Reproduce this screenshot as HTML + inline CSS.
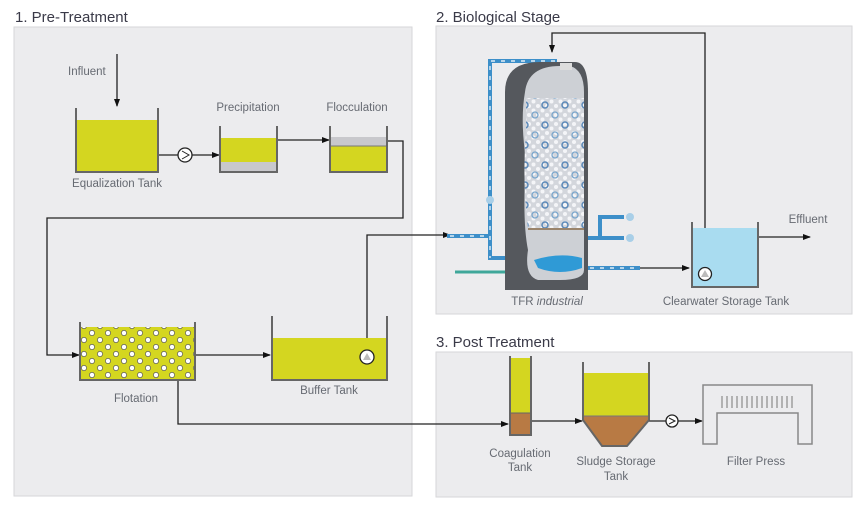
<!DOCTYPE html>
<html><head><meta charset="utf-8"><style>
html,body{margin:0;padding:0;background:#fff;}
svg{display:block;}
text{font-family:"Liberation Sans",sans-serif;}
</style></head><body>
<svg width="866" height="511" viewBox="0 0 866 511" xmlns="http://www.w3.org/2000/svg">
<defs>
<marker id="a" markerWidth="8" markerHeight="8" refX="7" refY="4" orient="auto" markerUnits="userSpaceOnUse"><path d="M0,1 L8,4 L0,7 Z" fill="#111"/></marker>
<pattern id="bub" width="16" height="14" patternUnits="userSpaceOnUse"><circle cx="4" cy="4" r="2.6" fill="#fff" stroke="#555" stroke-width="0.7"/><circle cx="12" cy="11" r="2.6" fill="#fff" stroke="#555" stroke-width="0.7"/></pattern>
<pattern id="media" width="9" height="9" patternUnits="userSpaceOnUse"><rect width="9" height="9" fill="#d3d6dc"/><circle cx="2.5" cy="2.5" r="2" fill="#f4f5f8"/><circle cx="7" cy="7" r="2" fill="#f4f5f8"/></pattern>
<pattern id="media2" width="20" height="20" patternUnits="userSpaceOnUse"><circle cx="5" cy="5" r="3" fill="none" stroke="#5a88b8" stroke-width="1.5"/><circle cx="15" cy="15" r="3" fill="none" stroke="#7aa6cc" stroke-width="1.3"/></pattern>
</defs>
<rect x="14" y="27" width="398" height="469" fill="#ececee" stroke="#d6d6d8"/>
<rect x="436" y="26" width="416" height="288" fill="#ececee" stroke="#d6d6d8"/>
<rect x="436" y="352" width="416" height="145" fill="#ececee" stroke="#d6d6d8"/>
<g font-size="15" fill="#3a3a48">
<text x="15" y="22">1. Pre-Treatment</text>
<text x="436" y="22">2. Biological Stage</text>
<text x="436" y="347">3. Post Treatment</text>
</g>
<g font-size="11.5" fill="#666a72">
<text x="68" y="75">Influent</text>
<text x="117" y="187" text-anchor="middle">Equalization Tank</text>
<text x="248" y="111" text-anchor="middle">Precipitation</text>
<text x="357" y="111" text-anchor="middle">Flocculation</text>
<text x="136" y="402" text-anchor="middle">Flotation</text>
<text x="329" y="394" text-anchor="middle">Buffer Tank</text>
<text x="547" y="305" text-anchor="middle">TFR <tspan font-style="italic">industrial</tspan></text>
<text x="726" y="305" text-anchor="middle">Clearwater Storage Tank</text>
<text x="808" y="223" text-anchor="middle">Effluent</text>
<text x="520" y="457" text-anchor="middle">Coagulation</text>
<text x="520" y="471" text-anchor="middle">Tank</text>
<text x="616" y="465" text-anchor="middle">Sludge Storage</text>
<text x="616" y="480" text-anchor="middle">Tank</text>
<text x="756" y="465" text-anchor="middle">Filter Press</text>
</g>
<g stroke="#222" stroke-width="1.3" fill="none">
<line x1="117" y1="54" x2="117" y2="106" marker-end="url(#a)"/>
<line x1="158" y1="155" x2="178" y2="155"/>
<line x1="192" y1="155" x2="219" y2="155" marker-end="url(#a)"/>
<line x1="277" y1="140" x2="329" y2="140" marker-end="url(#a)"/>
<polyline points="387,141 403,141 403,218 47,218 47,355 79,355" marker-end="url(#a)"/>
<line x1="195" y1="355" x2="270" y2="355" marker-end="url(#a)"/>
<polyline points="367,350 367,235 450,235" marker-end="url(#a)"/>
<polyline points="178,380 178,424 508,424" marker-end="url(#a)"/>
<polyline points="705,268 705,33 552,33 552,52" marker-end="url(#a)"/>
<line x1="758" y1="237" x2="810" y2="237" marker-end="url(#a)"/>
<line x1="640" y1="268" x2="689" y2="268" marker-end="url(#a)"/>
<line x1="530" y1="421" x2="582" y2="421" marker-end="url(#a)"/>
<line x1="648" y1="421" x2="666" y2="421"/>
<line x1="678" y1="421" x2="702" y2="421" marker-end="url(#a)"/>
</g>
<rect x="77" y="120" width="80" height="52" fill="#d4d620"/>
<polyline points="76,108 76,172 158,172 158,108" fill="none" stroke="#666" stroke-width="2"/>
<circle cx="185" cy="155" r="7" fill="#fff" stroke="#222" stroke-width="1.3"/><path d="M182,151 L189,155 L182,159" fill="none" stroke="#222"/>
<rect x="221" y="138" width="55" height="24" fill="#d4d620"/><rect x="221" y="162" width="55" height="9" fill="#c8c8cc"/>
<polyline points="220,126 220,172 277,172 277,126" fill="none" stroke="#666" stroke-width="2"/>
<rect x="331" y="137" width="55" height="9" fill="#c8c8cc"/><rect x="331" y="146" width="55" height="25" fill="#d4d620"/>
<line x1="331" y1="146" x2="386" y2="146" stroke="#777"/>
<polyline points="330,126 330,172 387,172 387,126" fill="none" stroke="#666" stroke-width="2"/>
<rect x="81" y="327" width="113" height="53" fill="#d4d620"/><rect x="81" y="327" width="113" height="53" fill="url(#bub)"/>
<polyline points="80,322 80,380 195,380 195,322" fill="none" stroke="#666" stroke-width="2"/>
<rect x="273" y="338" width="114" height="42" fill="#d4d620"/>
<polyline points="272,316 272,380 387,380 387,316" fill="none" stroke="#666" stroke-width="2"/>
<circle cx="367" cy="357" r="7" fill="#fff" stroke="#222" stroke-width="1.3"/><path d="M363,360 L367,353 L371,360 Z" fill="#bbb"/>
<g stroke="#3d8fc9" stroke-width="4" fill="none">
<polyline points="447,236 490,236"/>
<polyline points="555,70 555,61 490,61 490,258 506,258"/>
<polyline points="586,268 640,268"/>
<polyline points="586,238 600,238 600,217 624,217"/>
<polyline points="600,238 624,238"/>
<line x1="455" y1="272" x2="505" y2="272" stroke="#3fa79a" stroke-width="3"/>
</g>
<g stroke="#fff" stroke-width="1.2" stroke-dasharray="4 6" fill="none">
<polyline points="450,236 490,236"/><polyline points="555,61 490,61 490,258"/><polyline points="590,268 636,268"/>
</g>
<circle cx="490" cy="200" r="4" fill="#a9cfe8"/>
<circle cx="630" cy="217" r="4" fill="#a9cfe8"/><circle cx="630" cy="238" r="4" fill="#a9cfe8"/>
<path d="M505,92 Q505,62 540,62 L575,62 Q588,62 588,92 L588,290 L505,290 Z" fill="#55585d"/>
<path d="M525,92 Q528,66 560,66 L570,66 Q584,70 584,92 L584,270 Q584,280 560,280 L538,280 Q524,276 528,250 Q522,220 526,160 Q520,120 525,92 Z" fill="#cdd0d5"/>
<path d="M526,98 L584,98 L584,228 L528,228 Q522,180 526,130 Z" fill="url(#media)"/>
<path d="M526,98 L584,98 L584,228 L528,228 Q522,180 526,130 Z" fill="url(#media2)"/>
<line x1="528" y1="229" x2="584" y2="229" stroke="#8a6a4a" stroke-width="1.5"/>
<path d="M534,260 Q560,252 582,258 L582,268 Q560,276 538,268 Z" fill="#2f9ad6"/>
<rect x="560" y="63" width="12" height="7" fill="#ddd"/>
<rect x="693" y="228" width="64" height="58" fill="#a9dcf0"/>
<polyline points="692,222 692,287 758,287 758,222" fill="none" stroke="#666" stroke-width="2"/>
<circle cx="705" cy="274" r="6.5" fill="#fff" stroke="#222" stroke-width="1.3"/><path d="M701,277 L705,270 L709,277 Z" fill="#bbb"/>
<rect x="511" y="358" width="19" height="55" fill="#d4d620"/><rect x="511" y="413" width="19" height="21" fill="#b87a44"/>
<line x1="511" y1="413" x2="530" y2="413" stroke="#666"/>
<polyline points="510,356 510,435 531,435 531,356" fill="none" stroke="#666" stroke-width="2"/>
<rect x="584" y="373" width="64" height="43" fill="#d4d620"/>
<path d="M584,416 L648,416 L648,420 L627,445 L602,445 L584,420 Z" fill="#b87a44"/>
<line x1="584" y1="416" x2="648" y2="416" stroke="#777"/>
<polyline points="583,362 583,420 602,446 627,446 649,420 649,362" fill="none" stroke="#666" stroke-width="2"/>
<circle cx="672" cy="421" r="6" fill="#fff" stroke="#222" stroke-width="1.3"/><path d="M669,418 L675,421 L669,424" fill="none" stroke="#222"/>
<path d="M703,385 L812,385 L812,444 L798,444 L798,413 L717,413 L717,444 L703,444 Z" fill="#ececee" stroke="#888" stroke-width="1.5"/>
<g stroke="#777" stroke-width="1">
<line x1="722" y1="396" x2="722" y2="408"/><line x1="727" y1="396" x2="727" y2="408"/><line x1="732" y1="396" x2="732" y2="408"/><line x1="737" y1="396" x2="737" y2="408"/><line x1="742" y1="396" x2="742" y2="408"/><line x1="747" y1="396" x2="747" y2="408"/><line x1="752" y1="396" x2="752" y2="408"/><line x1="757" y1="396" x2="757" y2="408"/><line x1="762" y1="396" x2="762" y2="408"/><line x1="767" y1="396" x2="767" y2="408"/><line x1="772" y1="396" x2="772" y2="408"/><line x1="777" y1="396" x2="777" y2="408"/><line x1="782" y1="396" x2="782" y2="408"/><line x1="787" y1="396" x2="787" y2="408"/><line x1="792" y1="396" x2="792" y2="408"/>
</g>
</svg>
</body></html>
